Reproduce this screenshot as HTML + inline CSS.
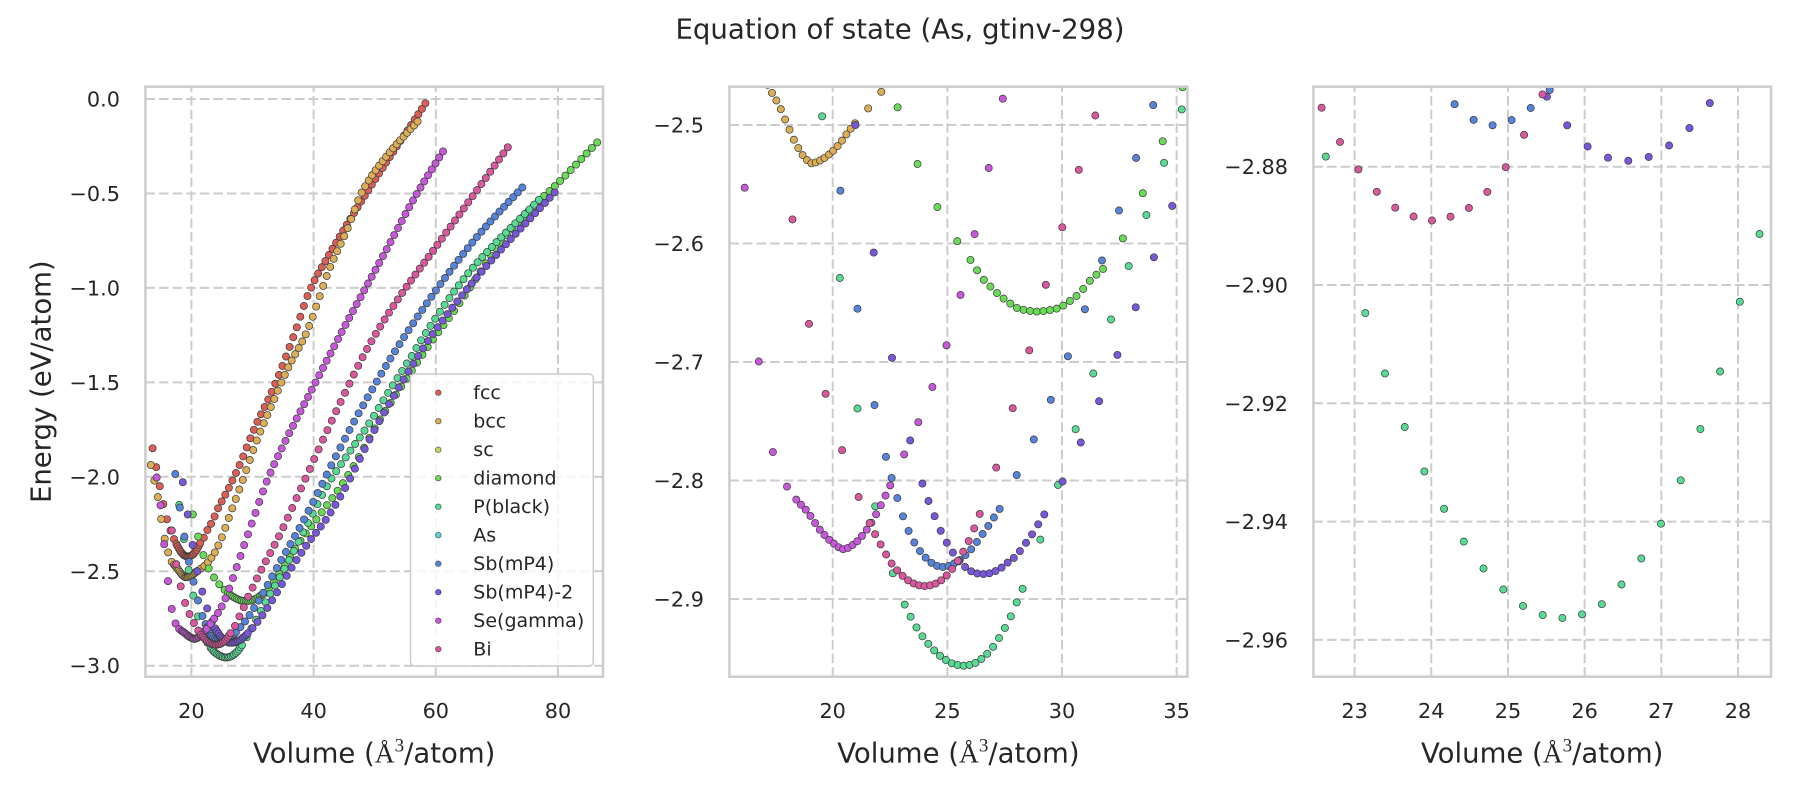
<!DOCTYPE html>
<html><head><meta charset="utf-8">
<style>
html,body{margin:0;padding:0;background:#fff;}
svg{display:block;}
text{font-family:"DejaVu Sans","Liberation Sans",sans-serif;fill:#262626;}
.tk{font-size:20.8px;}
.lg{font-size:19px;}
.lab{font-size:27.5px;}
.grid line{stroke:#cccccc;stroke-width:2;stroke-dasharray:9.5 4.1;}
.spine{fill:none;stroke:#cccccc;stroke-width:2.5;}
</style></head>
<body>
<svg id="fig" width="1800" height="800" viewBox="0 0 1800 800" xmlns="http://www.w3.org/2000/svg">
<defs>
<clipPath id="c1"><rect x="145.4" y="86.7" width="457.6" height="590"/></clipPath>
<clipPath id="c2"><rect x="729.4" y="86.7" width="458" height="590"/></clipPath>
<clipPath id="c3"><rect x="1313.4" y="86.7" width="457.6" height="590"/></clipPath>
</defs>
<rect width="1800" height="800" fill="#fff"/>

<text x="900" y="38.7" font-size="27.6" text-anchor="middle">Equation of state (As, gtinv-298)</text>

<!-- Panel 1 grid -->
<g class="grid">
<line x1="191.4" y1="676.7" x2="191.4" y2="86.7"/>
<line x1="313.6" y1="676.7" x2="313.6" y2="86.7"/>
<line x1="435.8" y1="676.7" x2="435.8" y2="86.7"/>
<line x1="558.0" y1="676.7" x2="558.0" y2="86.7"/>
<line x1="145.4" y1="99" x2="603" y2="99"/>
<line x1="145.4" y1="193.45" x2="603" y2="193.45"/>
<line x1="145.4" y1="287.9" x2="603" y2="287.9"/>
<line x1="145.4" y1="382.35" x2="603" y2="382.35"/>
<line x1="145.4" y1="476.8" x2="603" y2="476.8"/>
<line x1="145.4" y1="571.25" x2="603" y2="571.25"/>
<line x1="145.4" y1="665.7" x2="603" y2="665.7"/>
</g>
<!-- Panel 2 grid -->
<g class="grid">
<line x1="832.7" y1="676.7" x2="832.7" y2="86.7"/>
<line x1="947.35" y1="676.7" x2="947.35" y2="86.7"/>
<line x1="1062" y1="676.7" x2="1062" y2="86.7"/>
<line x1="1176.65" y1="676.7" x2="1176.65" y2="86.7"/>
<line x1="729.4" y1="125" x2="1187.4" y2="125"/>
<line x1="729.4" y1="243.5" x2="1187.4" y2="243.5"/>
<line x1="729.4" y1="362" x2="1187.4" y2="362"/>
<line x1="729.4" y1="480.5" x2="1187.4" y2="480.5"/>
<line x1="729.4" y1="599" x2="1187.4" y2="599"/>
</g>
<!-- Panel 3 grid -->
<g class="grid">
<line x1="1354.6" y1="676.7" x2="1354.6" y2="86.7"/>
<line x1="1431.28" y1="676.7" x2="1431.28" y2="86.7"/>
<line x1="1507.96" y1="676.7" x2="1507.96" y2="86.7"/>
<line x1="1584.64" y1="676.7" x2="1584.64" y2="86.7"/>
<line x1="1661.32" y1="676.7" x2="1661.32" y2="86.7"/>
<line x1="1738.0" y1="676.7" x2="1738.0" y2="86.7"/>
<line x1="1313.4" y1="166.7" x2="1771" y2="166.7"/>
<line x1="1313.4" y1="285.0" x2="1771" y2="285.0"/>
<line x1="1313.4" y1="403.3" x2="1771" y2="403.3"/>
<line x1="1313.4" y1="521.6" x2="1771" y2="521.6"/>
<line x1="1313.4" y1="639.9" x2="1771" y2="639.9"/>
</g>

<g id="d1" clip-path="url(#c1)"></g>
<g id="d2" clip-path="url(#c2)"></g>
<g id="d3" clip-path="url(#c3)"></g>

<rect class="spine" x="145.4" y="86.7" width="457.6" height="590"/>
<rect class="spine" x="729.4" y="86.7" width="458" height="590"/>
<rect class="spine" x="1313.4" y="86.7" width="457.6" height="590"/>

<!-- Panel 1 ticks -->
<g class="tk" text-anchor="end">
<text x="120" y="106.5">0.0</text>
<text x="120" y="201">−0.5</text>
<text x="120" y="295.4">−1.0</text>
<text x="120" y="389.9">−1.5</text>
<text x="120" y="484.3">−2.0</text>
<text x="120" y="578.8">−2.5</text>
<text x="120" y="673.2">−3.0</text>
</g>
<g class="tk" text-anchor="middle">
<text x="191.4" y="718">20</text>
<text x="313.6" y="718">40</text>
<text x="435.8" y="718">60</text>
<text x="558.0" y="718">80</text>
</g>
<!-- Panel 2 ticks -->
<g class="tk" text-anchor="end">
<text x="704" y="132.5">−2.5</text>
<text x="704" y="251">−2.6</text>
<text x="704" y="369.5">−2.7</text>
<text x="704" y="488">−2.8</text>
<text x="704" y="606.5">−2.9</text>
</g>
<g class="tk" text-anchor="middle">
<text x="832.7" y="718">20</text>
<text x="947.35" y="718">25</text>
<text x="1062" y="718">30</text>
<text x="1176.65" y="718">35</text>
</g>
<!-- Panel 3 ticks -->
<g class="tk" text-anchor="end">
<text x="1288" y="174.2">−2.88</text>
<text x="1288" y="292.5">−2.90</text>
<text x="1288" y="410.8">−2.92</text>
<text x="1288" y="529.1">−2.94</text>
<text x="1288" y="647.4">−2.96</text>
</g>
<g class="tk" text-anchor="middle">
<text x="1354.6" y="718">23</text>
<text x="1431.28" y="718">24</text>
<text x="1507.96" y="718">25</text>
<text x="1584.64" y="718">26</text>
<text x="1661.32" y="718">27</text>
<text x="1738.0" y="718">28</text>
</g>

<!-- axis labels -->
<text class="lab" x="374.2" y="762.5" text-anchor="middle">Volume (<tspan font-family="Liberation Serif, serif">Å</tspan><tspan font-family="Liberation Serif, serif" font-size="19" dy="-11">3</tspan><tspan dy="11">/atom)</tspan></text>
<text class="lab" x="958.4" y="762.5" text-anchor="middle">Volume (<tspan font-family="Liberation Serif, serif">Å</tspan><tspan font-family="Liberation Serif, serif" font-size="19" dy="-11">3</tspan><tspan dy="11">/atom)</tspan></text>
<text class="lab" x="1542.2" y="762.5" text-anchor="middle">Volume (<tspan font-family="Liberation Serif, serif">Å</tspan><tspan font-family="Liberation Serif, serif" font-size="19" dy="-11">3</tspan><tspan dy="11">/atom)</tspan></text>
<text class="lab" transform="translate(50.5,381.7) rotate(-90)" text-anchor="middle">Energy (eV/atom)</text>

<!-- legend -->
<rect x="410.5" y="374" width="182.8" height="292" rx="4" ry="4" fill="#ffffff" fill-opacity="0.8" stroke="#cccccc" stroke-width="1.5"/>
<g stroke="#3a3a3a" stroke-width="0.6">
<circle cx="438.3" cy="392.7" r="2.8" fill="#db5f57"/>
<circle cx="438.3" cy="421.2" r="2.8" fill="#dbae57"/>
<circle cx="438.3" cy="449.7" r="2.8" fill="#b9db57"/>
<circle cx="438.3" cy="478.2" r="2.8" fill="#69db57"/>
<circle cx="438.3" cy="506.7" r="2.8" fill="#57db94"/>
<circle cx="438.3" cy="535.2" r="2.8" fill="#57d3db"/>
<circle cx="438.3" cy="563.7" r="2.8" fill="#5784db"/>
<circle cx="438.3" cy="592.2" r="2.8" fill="#7957db"/>
<circle cx="438.3" cy="620.7" r="2.8" fill="#c957db"/>
<circle cx="438.3" cy="649.2" r="2.8" fill="#db579e"/>
</g>
<g class="lg">
<text x="473.3" y="399.2">fcc</text>
<text x="473.3" y="427.7">bcc</text>
<text x="473.3" y="456.2">sc</text>
<text x="473.3" y="484.7">diamond</text>
<text x="473.3" y="513.2">P(black)</text>
<text x="473.3" y="541.7">As</text>
<text x="473.3" y="570.2">Sb(mP4)</text>
<text x="473.3" y="598.7">Sb(mP4)-2</text>
<text x="473.3" y="627.2">Se(gamma)</text>
<text x="473.3" y="655.7">Bi</text>
</g>
</svg>

<script>
(function(){
function pchip(xs, ys){
  var n=xs.length,h=[],d=[],m=new Array(n),i;
  for(i=0;i<n-1;i++){h[i]=xs[i+1]-xs[i];d[i]=(ys[i+1]-ys[i])/h[i];}
  m[0]=d[0];m[n-1]=d[n-2];
  for(i=1;i<n-1;i++){
    if(d[i-1]*d[i]<=0){m[i]=0;}
    else{var w1=2*h[i]+h[i-1],w2=h[i]+2*h[i-1];m[i]=(w1+w2)/(w1/d[i-1]+w2/d[i]);}
  }
  return function(x){
    if(x<=xs[0]) return ys[0]+m[0]*(x-xs[0]);
    if(x>=xs[n-1]) return ys[n-1]+m[n-1]*(x-xs[n-1]);
    var j=0;while(x>xs[j+1]) j++;
    var t=(x-xs[j])/h[j],t2=t*t,t3=t2*t;
    return (2*t3-3*t2+1)*ys[j]+(t3-2*t2+t)*h[j]*m[j]+(-2*t3+3*t2)*ys[j+1]+(t3-t2)*h[j]*m[j+1];
  };
}
var S=[
 {c:'#db5f57',V0:19.5,k:[[13.65,-1.849],[14.24,-1.95],[14.82,-2.05],[15.41,-2.145],[15.99,-2.225],[16.58,-2.285],[17.16,-2.33],[17.55,-2.355],[18.13,-2.39],[18.8,-2.415],[19.45,-2.423],[20.1,-2.415],[20.8,-2.39],[21.45,-2.35],[22.04,-2.322],[22.62,-2.282],[23.48,-2.232],[24.24,-2.176],[26.1,-2.06],[27.84,-1.941],[30.13,-1.758],[33.76,-1.505],[36.9,-1.24],[39.41,-1.011],[42.67,-0.817],[48.8,-0.49],[58.1,-0.033]]},
 {c:'#dbae57',V0:19.07,k:[[13.35,-1.937],[13.92,-2.02],[14.49,-2.107],[15.07,-2.225],[15.64,-2.328],[16.21,-2.40],[16.78,-2.45],[17.16,-2.466],[17.67,-2.484],[18.05,-2.501],[18.44,-2.5175],[18.8,-2.528],[19.08,-2.5323],[19.45,-2.530],[19.86,-2.5245],[20.23,-2.5175],[20.61,-2.5076],[21.0,-2.498],[21.55,-2.486],[22.12,-2.472],[23.58,-2.414],[24.57,-2.352],[26.4,-2.193],[28.6,-2.0],[30.79,-1.80],[33.0,-1.63],[35.86,-1.42],[38.79,-1.24],[42.73,-0.888],[45.5,-0.69],[47.86,-0.496],[52.0,-0.30],[57.0,-0.12]]},
 {c:'#69db57',V0:28.9,k:[[20.23,-2.199],[21.1,-2.317],[21.96,-2.414],[22.83,-2.485],[23.7,-2.533],[24.57,-2.5695],[25.43,-2.598],[26.01,-2.6138],[26.34,-2.6238],[26.62,-2.6314],[26.91,-2.637],[27.21,-2.6426],[27.49,-2.647],[27.79,-2.6513],[28.08,-2.6547],[28.36,-2.6561],[28.9,-2.6575],[29.51,-2.6561],[29.81,-2.6547],[30.1,-2.6519],[30.4,-2.6477],[30.68,-2.6435],[30.98,-2.637],[31.27,-2.6302],[31.79,-2.6215],[32.66,-2.5956],[33.52,-2.5577],[34.39,-2.5138],[35.26,-2.468],[38.05,-2.33],[41.05,-2.2],[44.87,-2.03],[47.32,-1.9],[50.32,-1.726],[55.0,-1.49],[59.6,-1.27],[63.0,-1.122],[70.0,-0.79],[75.0,-0.60],[80.33,-0.434],[86.43,-0.229]]},
 {c:'#57db94',V0:25.71,k:[[18.0,-2.15],[18.77,-2.33],[19.54,-2.4927],[20.31,-2.629],[21.08,-2.739],[21.85,-2.8215],[22.62,-2.878],[23.14,-2.9048],[23.40,-2.9151],[23.65,-2.9239],[23.91,-2.9315],[24.17,-2.9379],[24.42,-2.9433],[24.68,-2.9479],[24.94,-2.9515],[25.19,-2.9542],[25.45,-2.9558],[25.71,-2.9563],[25.96,-2.9557],[26.22,-2.954],[26.47,-2.9508],[26.73,-2.9464],[26.99,-2.9405],[27.24,-2.9334],[27.50,-2.9247],[27.76,-2.9149],[28.00,-2.9039],[28.27,-2.8919],[29.05,-2.850],[29.82,-2.804],[30.59,-2.757],[31.37,-2.7095],[32.14,-2.664],[32.91,-2.619],[33.68,-2.576],[34.45,-2.532],[35.22,-2.487],[36.14,-2.432],[39.13,-2.241],[42.3,-2.043],[45.4,-1.89],[48.41,-1.752],[51.96,-1.567],[56.06,-1.36],[57.7,-1.272],[65.3,-0.923],[77.1,-0.526]]},
 {c:'#5784db',V0:24.8,k:[[17.36,-1.985],[18.1,-2.162],[18.85,-2.317],[19.59,-2.449],[20.34,-2.556],[21.08,-2.655],[21.82,-2.736],[22.32,-2.780],[22.6,-2.80],[23.07,-2.8305],[23.55,-2.852],[24.06,-2.8652],[24.54,-2.872],[24.82,-2.8730],[25.07,-2.872],[25.53,-2.8672],[26.04,-2.858],[26.54,-2.845],[27.04,-2.831],[27.31,-2.823],[28.02,-2.7956],[28.77,-2.7652],[29.51,-2.732],[30.26,-2.695],[31.0,-2.6555],[31.75,-2.614],[32.49,-2.572],[33.23,-2.528],[33.98,-2.483],[37.89,-2.259],[40.77,-2.079],[43.67,-1.89],[46.67,-1.705],[49.61,-1.537],[52.5,-1.378],[60.69,-0.983],[67.23,-0.711],[74.2,-0.467]]},
 {c:'#7957db',V0:26.57,k:[[18.6,-2.029],[19.4,-2.20],[20.19,-2.36],[20.99,-2.50],[21.79,-2.608],[22.58,-2.696],[23.38,-2.766],[23.91,-2.8024],[24.2,-2.8184],[24.48,-2.8318],[24.74,-2.8437],[24.99,-2.853],[25.26,-2.8614],[25.5,-2.868],[25.76,-2.8728],[26.02,-2.8764],[26.28,-2.8784],[26.57,-2.8790],[26.82,-2.8784],[27.08,-2.8766],[27.35,-2.8737],[27.61,-2.8696],[27.93,-2.8648],[28.18,-2.8592],[28.45,-2.852],[28.71,-2.845],[28.96,-2.837],[29.23,-2.8285],[30.02,-2.801],[30.82,-2.768],[31.62,-2.733],[32.41,-2.6943],[33.21,-2.654],[34.01,-2.6116],[34.8,-2.5686],[36.41,-2.481],[38.97,-2.357],[42.14,-2.22],[45.14,-2.061],[47.6,-1.902],[50.05,-1.747],[53.21,-1.567],[57.14,-1.36],[59.6,-1.24],[67.5,-0.914],[79.4,-0.496]]},
 {c:'#c957db',V0:20.46,k:[[14.32,-2.003],[14.93,-2.149],[15.55,-2.357],[16.16,-2.552],[16.78,-2.70],[17.39,-2.776],[18.0,-2.805],[18.41,-2.816],[18.87,-2.8257],[19.45,-2.8418],[20.0,-2.8525],[20.47,-2.858],[20.9,-2.854],[21.54,-2.840],[22.12,-2.820],[22.51,-2.804],[23.12,-2.778],[23.73,-2.751],[24.35,-2.721],[24.96,-2.686],[25.58,-2.643],[26.19,-2.592],[26.8,-2.5365],[27.42,-2.4775],[28.03,-2.419],[29.97,-2.239],[32.43,-2.017],[35.6,-1.796],[39.1,-1.576],[45.35,-1.188],[51.3,-0.835],[56.94,-0.499],[61.18,-0.277]]},
 {c:'#db579e',V0:24.01,k:[[16.81,-2.285],[17.53,-2.463],[18.25,-2.58],[18.97,-2.668],[19.69,-2.727],[20.41,-2.7745],[21.13,-2.814],[21.61,-2.836],[22.12,-2.855],[22.58,-2.8703],[23.07,-2.8808],[23.54,-2.887],[24.01,-2.8891],[24.5,-2.8869],[24.98,-2.8799],[25.45,-2.8678],[25.96,-2.850],[26.42,-2.8277],[27.19,-2.7855],[27.88,-2.737],[28.63,-2.686],[29.31,-2.6336],[30.05,-2.5838],[30.76,-2.536],[31.5,-2.489],[34.5,-2.304],[37.94,-2.061],[41.59,-1.80],[45.14,-1.555],[48.8,-1.32],[53.8,-1.06],[60.08,-0.78],[66.35,-0.50],[71.8,-0.255]]}
];
var rs=[],k;
for(k=0;k<=6;k++) rs.push(0.70+0.03*k);
for(k=0;k<=20;k++) rs.push(0.90+0.01*k);
for(k=0;k<=62;k++) rs.push(1.13+0.03*k);
var P=[
 {id:'d1',x0:191.4,sx:6.11,vx:20,y0:99,sy:188.9,ey:0,L:145.4,R:603,T:86.7,B:676.7},
 {id:'d2',x0:832.7,sx:22.93,vx:20,y0:125,sy:1185,ey:-2.5,L:729.4,R:1187.4,T:86.7,B:676.7},
 {id:'d3',x0:1354.6,sx:76.68,vx:23,y0:166.7,sy:5915,ey:-2.88,L:1313.4,R:1771,T:86.7,B:676.7}
];
var out=['','',''];
for(var s=0;s<S.length;s++){
  var ser=S[s],xs=[],ys=[];
  for(k=0;k<ser.k.length;k++){xs.push(ser.k[k][0]);ys.push(ser.k[k][1]);}
  var f=pchip(xs,ys);
  for(var r=0;r<rs.length;r++){
    var V=ser.V0*rs[r],E=f(V);
    for(var p=0;p<3;p++){
      var q=P[p],px=q.x0+(V-q.vx)*q.sx,py=q.y0+(q.ey-E)*q.sy;
      if(px<q.L-6||px>q.R+6||py<q.T-6||py>q.B+6) continue;
      out[p]+='<circle cx="'+px.toFixed(1)+'" cy="'+py.toFixed(1)+'" r="3.6" fill="'+ser.c+'"/>';
    }
  }
}
for(var p2=0;p2<3;p2++){
  var g=document.getElementById(P[p2].id);
  g.setAttribute('stroke','#3a3a3a');
  g.setAttribute('stroke-width','0.7');
  g.innerHTML=out[p2];
}
})();
</script>
</body></html>
